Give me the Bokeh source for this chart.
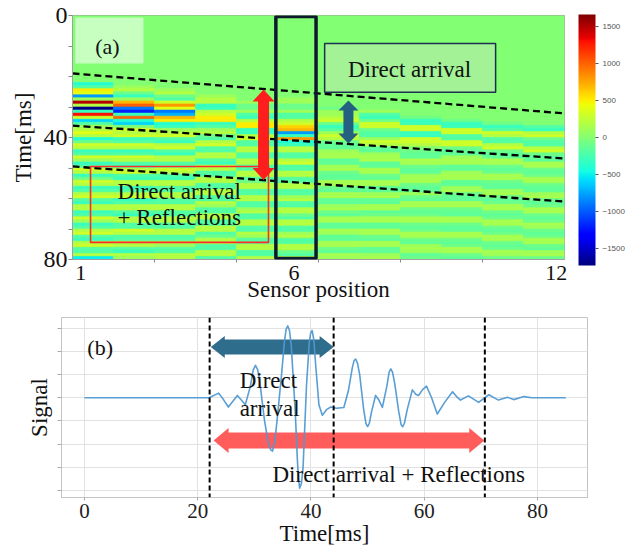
import numpy as np
from bokeh.plotting import figure
from bokeh.models import (Range1d, LinearColorMapper, ColorBar, FixedTicker, BoxAnnotation,
                          Label, Span, ColumnDataSource, CustomJSTickFormatter)
from bokeh.embed import file_html
from bokeh.resources import INLINE

# ---------------- data: panel (a) heat map (values in units of 100, 1 ms rows) -------------
n_rows_ms = 80
sensors = list(range(1, 13))
onset_ms = [22, 23, 24, 26, 28, 27, 30, 31, 33, 34, 35, 36]
s01 = [-4, -2, 5, 4, -8, 1, 15, 2, -17, -3, 13, 3, -6, -2, 1, 2, 4, 2, -4, -1, 3, 2, -3, -2, 3,
       1, -3, -2, 3, 2, -3, -1, 3, 2, -3, -2, 2, 3, -2, -3, 2, 2, -3, -2, 3, 1, -3, -2, 2, 3,
       -2, -3, 2, 3, -2, -2, 2, -5]
s02 = [1, 2, -1, -3, 1, 7, 10, -9, -12, -3, 10, -4, -6, 0, 3, 2, 3, -3, -2, 3, 2, -3, -2, 3, 2,
       -2, -3, 2, 3, -2, -3, 2, 2, -3, -2, 2, 3, -3, -2, 2, 2, -2, -3, 2, 2, -2, -2, 3, 2, -2,
       -2, 2, 2, -2, -3, 2, 1]
s03 = [1, 2, -1, -2, 3, 8, 4, -9, -7, 7, 5, -4, -3, 1, 2, 3, -2, -3, 2, 3, -2, -3, 2, 2, -2,
       -2, 3, 2, -2, -3, 2, 2, -2, -2, 2, 2, -2, -2, 2, 2, -2, -2, 2, 2, -2, -2, 2, 2, -2, -2,
       2, 1, -2, -2, 2, 2]
s04 = [1, 2, 2, -3, -3, 2, 3, 5, 5, -3, -2, 1, 2, -1, -2, 2, 3, -2, -2, 2, 2, -2, -3, 2, 2,
       -2, -2, 2, 2, -2, -2, 2, 2, -2, -2, 2, 1, -2, -2, 2, 2, -2, -2, 2, 2, -2, -1, 2, 2, -2,
       -2, 2, 2, -2]
s05 = [1, -1, -1, 1, -2, -3, 2, 5, 5, -3, -3, 2, 3, -2, -2, 2, 2, -2, -2, 2, 2, -2, -2, 2, 2,
       -2, -1, 2, 2, -2, -2, 2, 2, -2, -2, 1, 2, -2, -2, 2, 2, -2, -2, 2, 1, -2, -2, 2, 2, -2,
       -2, 2]
s06 = [1, 1, -1, -1, 1, -2, -2, 2, 3, 6, 7, -8, -3, 8, -4, -3, 2, 2, -2, -2, 2, 3, -2, -2, 2,
       2, -2, -2, 2, 2, -2, -2, 1, 2, -2, -2, 2, 2, -1, -2, 2, 2, -2, -2, 1, 2, -2, -2, 2, 2,
       -1, -2, 2]
s07 = [-1, 1, 1, 2, 3, -1, -3, -2, 1, 3, 2, -1, -1.5, -1.5, 1, 1.5, 1.5, -1.5, -1.5, 1, 1.5,
       -1, -1.5, -1.5, 1.5, 1.5, -1, -1.5, 1.5, 1.5, -1.5, -1.5, 1, 1.5, -1, -1.5, 1.5, 1.5,
       -1.5, -1.5, 1.5, 1, -1.5, -1.5, 1.5, 1.5, -1, -1.5, 1.5, 1]
s08 = [1, -2, -3, -1, 3, 3, -1, -2, -2, 1, 3, 2, -1.5, -1.5, 1, 1.5, 1.5, -1.5, -1.5, 1.5, 1.5,
       -1, -1.5, 1.5, 1.5, -1.5, -1.5, 1, 1.5, -1.5, -1.5, 1.5, 1.5, -1.5, -1, 1.5, 1.5, -1.5,
       -1.5, 1.5, 1.5, -1, -1.5, 1.5, 1.5, -1.5, -1.5, 1, 1.5]
s09 = [-1, -3, -3, 3, 3, -3, -3, 3, 3, 2, 0, -1, -1.5, -1.5, 1.5, 1.5, -1, -1.5, -1.5, 1, 1.5,
       1.5, -1, -1.5, -1.5, 1, -1, -1.5, 1.5, 1.5, -1, -1.5, -1, 1.5, 1.5, -1, -1.5, -1, 1.5,
       1.5, -1, -1.5, 1, 1.5, 1, -1.5, -1]
s10 = [-1, -3, -3, 3, 3, -2, -2, 3, 3, -1, -1.5, -1.5, 1, 1.5, 1.5, -1.5, -1.5, 1, 1.5, 1.5,
       -1.5, -1.5, 1, 1.5, -1, -1.5, -1.5, 1.5, 1.5, -1, -1.5, -1.5, 1.5, 1.5, -1, -1.5, -1.5,
       1.5, 1.5, -1, -1.5, -1, 1.5, 1.5, -1, -1.5]
s11 = [-1, -3, -2, 3, 2, -2, -2, 2, 3, -1, -1.5, -1.5, 1.5, 1.5, -1, -1.5, -1, 1.5, 1.5, -1,
       -1.5, -1.5, 1, 1.5, -1, -1.5, -1, 1.5, 1.5, -1, -1.5, -1, 1.5, 1.5, -1, -1.5, -1, 1.5,
       1.5, -1, -1.5, -1, 1.5, 1, -1]
s12 = [-2, -3, 2, 3, -1, -2, -2, 2, 3, -1, -1.5, -1.5, 1.5, 1.5, -1, -1.5, -1, 1.5, 1.5, -1,
       -1.5, -1.5, 1, 1.5, -1, -1.5, -1, 1.5, 1.5, -1, -1.5, -1, 1.5, 1, -1, -1.5, -1, 1.5,
       1.5, -1, -1.5, 1, 1.5, -1]
sensor_columns = [s01, s02, s03, s04, s05, s06, s07, s08, s09, s10, s11, s12]

# dashed arrival boundaries (a): time at left edge / right edge of the map
boundary_left_ms = [19.0, 36.1, 49.5]
boundary_right_ms = [32.1, 46.9, 61.0]

colorbar_ticks = [-1500, -1000, -500, 0, 500, 1000, 1500]

# ---------------- data: panel (b) waveform ----------------
sig_t = [0, 22, 23.7, 24.6, 25.4, 26.2, 27.0, 27.7, 28.4, 29.3, 29.8, 30.2, 30.6, 31.0, 31.8,
         32.5, 32.9, 33.2, 33.6, 34.0, 34.8, 35.3, 35.6, 35.9, 36.2, 36.5, 37.2, 37.6, 37.8,
         38.0, 38.3, 38.6, 39.2, 39.7, 39.95, 40.2, 40.5, 40.8, 41.4, 42.0, 42.8, 43.5, 44.5,
         45.8, 46.6, 47.3, 47.6, 47.9, 48.2, 48.6, 49.3, 49.7, 50.0, 50.3, 50.7, 51.4, 52.0,
         52.6, 53.4, 53.8, 54.1, 54.4, 54.8, 55.5, 55.9, 56.2, 56.5, 57.0, 57.9, 58.5, 59.0,
         59.7, 60.4, 61.3, 62.3, 63.6, 65.0, 65.7, 66.4, 67.8, 69.6, 71.4, 73.1, 74.7, 75.8,
         77.6, 79.0, 85.0]
sig_amp = [0, 0, 0.2, -0.1, -0.4, -0.15, 0.1, -0.1, -0.3, 0.5, 1.2, 1.4, 1.2, 0.6, -1.0,
           -2.0, -2.25, -2.3, -1.9, -1.0, 1.0, 2.4, 2.95, 3.1, 2.9, 2.3, -0.5, -2.7, -3.5,
           -3.9, -3.7, -3.0, 0.5, 2.4, 2.8, 2.9, 2.5, 1.5, -0.3, -0.75, -0.5, -0.4, -0.45,
           -0.42, 0.3, 1.3, 1.6, 1.67, 1.5, 1.0, -0.5, -1.1, -1.24, -1.1, -0.6, 0.1, -0.1,
           -0.42, 0.5, 1.1, 1.24, 1.1, 0.6, -0.6, -1.15, -1.25, -1.1, -0.5, 0.34, 0.15, 0.1,
           0.35, 0.5, 0.0, -0.7, -0.2, 0.26, 0.05, -0.1, 0.08, -0.2, 0.13, -0.1, 0.02, -0.08,
           0.05, 0, 0]
window_marks_ms = [22.1, 44.0, 70.7]

FONT = "Liberation Serif"

# ---------------- helpers ----------------
def jet_palette(n=256):
    v = np.linspace(0, 1, n)
    r = np.interp(v, [0, 0.35, 0.66, 0.89, 1], [0, 0, 1, 1, 0.5])
    g = np.interp(v, [0, 0.125, 0.375, 0.64, 0.91, 1], [0, 0, 1, 1, 0, 0])
    b = np.interp(v, [0, 0.11, 0.34, 0.65, 1], [0.5, 1, 1, 0, 0])
    return ["#%02x%02x%02x" % (int(round(255 * a)), int(round(255 * c)), int(round(255 * d)))
            for a, c, d in zip(r, g, b)]


def double_arrow(x0, y0, x1, y1, ppx, ppy, shaft, head_w, head_l):
    X0, Y0, X1, Y1 = x0 * ppx, y0 * ppy, x1 * ppx, y1 * ppy
    L = np.hypot(X1 - X0, Y1 - Y0)
    ux, uy = (X1 - X0) / L, (Y1 - Y0) / L
    nx, ny = -uy, ux
    pts = [(X0, Y0),
           (X0 + ux * head_l + nx * head_w / 2, Y0 + uy * head_l + ny * head_w / 2),
           (X0 + ux * head_l + nx * shaft / 2, Y0 + uy * head_l + ny * shaft / 2),
           (X1 - ux * head_l + nx * shaft / 2, Y1 - uy * head_l + ny * shaft / 2),
           (X1 - ux * head_l + nx * head_w / 2, Y1 - uy * head_l + ny * head_w / 2),
           (X1, Y1),
           (X1 - ux * head_l - nx * head_w / 2, Y1 - uy * head_l - ny * head_w / 2),
           (X1 - ux * head_l - nx * shaft / 2, Y1 - uy * head_l - ny * shaft / 2),
           (X0 + ux * head_l - nx * shaft / 2, Y0 + uy * head_l - ny * shaft / 2),
           (X0 + ux * head_l - nx * head_w / 2, Y0 + uy * head_l - ny * head_w / 2)]
    return [p[0] / ppx for p in pts], [p[1] / ppy for p in pts]


# ================= panel (a) =================
A_FW, A_FH = 492, 244
ax0, ax1 = 0.5, 12.5
ay0, ay1 = 80, 0
mapper = LinearColorMapper(palette=jet_palette(), low=-1730, high=1660)

pa = figure(frame_width=A_FW, frame_height=A_FH,
            x_range=Range1d(ax0, ax1), y_range=Range1d(ay0, ay1),
            output_backend="svg", toolbar_location=None,
            min_border_left=72, min_border_top=15, min_border_bottom=40, min_border_right=66,
            background_fill_color=mapper.palette[int(0.51 * 255)])

xs, ys, vs = [], [], []
for s, t0, vals in zip(sensors, onset_ms, sensor_columns):
    full = [0] * t0 + vals
    full = (full + [0] * n_rows_ms)[:n_rows_ms]
    for t, v in enumerate(full):
        xs.append(s)
        ys.append(t + 0.5)
        vs.append(v * 100)
src = ColumnDataSource(dict(x=xs, y=ys, v=vs))
pa.rect(x="x", y="y", width=1, height=1, source=src,
        fill_color={"field": "v", "transform": mapper},
        line_color={"field": "v", "transform": mapper}, line_width=0.6)

pa.multi_line(xs=[[ax0, ax1]] * 3,
              ys=[[l, r] for l, r in zip(boundary_left_ms, boundary_right_ms)],
              line_color="black", line_width=2.3, line_dash="7 4")

pa.add_layout(BoxAnnotation(left=0.57, right=2.23, top=0.66, bottom=15.7,
                            fill_color="white", fill_alpha=0.55, line_color=None))
pa.add_layout(BoxAnnotation(left=5.46, right=6.44, top=0.3, bottom=79.7, fill_alpha=0,
                            line_color="#0E1A2B", line_alpha=1.0, line_width=3.5))
pa.add_layout(BoxAnnotation(left=6.65, right=10.82, top=9.2, bottom=25.2,
                            fill_color="#A3F296", fill_alpha=1.0,
                            line_color="#1E3050", line_alpha=1.0, line_width=1.5))
pa.add_layout(BoxAnnotation(left=0.94, right=5.28, top=49.5, bottom=74.4, fill_alpha=0,
                            line_color="#FF2A2A", line_alpha=1.0, line_width=1.6))

ppx_a = A_FW / (ax1 - ax0)
ppy_a = A_FH / abs(ay0 - ay1)
rx, ry = double_arrow(5.16, 24.3, 5.16, 53.9, ppx_a, ppy_a, 11, 22, 12)
pa.patch(rx, ry, fill_color="#FF1E1E", line_color=None, level="overlay")
bx, by = double_arrow(7.23, 27.9, 7.23, 42.0, ppx_a, ppy_a, 10, 20, 10)
pa.patch(bx, by, fill_color="#24607F", line_color=None, level="overlay")

for txt, x, y, al in [("(a)", 1.35, 10.2, "center"),
                      ("Direct arrival", 8.72, 17.6, "center"),
                      ("Direct arrival", 1.6, 57.7, "left"),
                      ("+ Reflections", 1.6, 66.2, "left")]:
    pa.add_layout(Label(x=x, y=y, text=txt, text_font=FONT,
                        text_font_size="23px" if txt != "(a)" else "22px",
                        text_align=al, text_baseline="middle", text_color="#111111"))

pa.grid.visible = False
pa.outline_line_color = "#A0A0A0"
pa.yaxis.ticker = FixedTicker(ticks=[0, 40, 80], minor_ticks=[10, 20, 30, 50, 60, 70])
pa.yaxis.major_label_text_font = FONT
pa.yaxis.major_label_text_font_size = "24px"
pa.yaxis.major_label_text_color = "#111111"
pa.yaxis.major_tick_out = 4
pa.yaxis.major_tick_in = 0
pa.yaxis.minor_tick_out = 4
pa.yaxis.minor_tick_in = 0
pa.yaxis.major_label_standoff = 1
pa.yaxis.axis_label = "Time[ms]"
pa.yaxis.axis_label_standoff = 5
pa.xaxis.ticker = FixedTicker(ticks=[0.7, 5.9, 12.3], minor_ticks=[2.5, 4.5, 6.5, 8.5, 10.5])
pa.xaxis.major_label_overrides = {0.7: "1", 5.9: "6", 12.3: "12"}
pa.xaxis.major_label_text_font = FONT
pa.xaxis.major_label_text_font_size = "22px"
pa.xaxis.major_label_text_color = "#111111"
pa.xaxis.major_tick_out = 0
pa.xaxis.major_tick_in = 0
pa.xaxis.minor_tick_out = 3
pa.xaxis.minor_tick_in = 0
pa.xaxis.major_label_standoff = 3
pa.xaxis.axis_label = "Sensor position"
pa.xaxis.axis_label_standoff = -6
for ax in (pa.xaxis[0], pa.yaxis[0]):
    ax.axis_label_text_font = FONT
    ax.axis_label_text_font_size = "23px"
    ax.axis_label_text_font_style = "normal"
    ax.axis_label_text_color = "#111111"
    ax.axis_line_color = "#A0A0A0"
    ax.major_tick_line_color = "#888888"
    ax.minor_tick_line_color = "#888888"

cb = ColorBar(color_mapper=mapper, ticker=FixedTicker(ticks=colorbar_ticks),
              major_label_overrides={t: str(t).replace("-", "\u2212") for t in colorbar_ticks},
              width=17, height=251, padding=0, margin=0, label_standoff=4,
              location=(506, -6),
              major_label_text_font_size="8px", major_label_text_color="#555555",
              major_tick_line_color="#555555", major_tick_in=0, major_tick_out=3,
              bar_line_color=None, border_line_color=None, background_fill_color=None)
pa.add_layout(cb)

# ================= panel (b) =================
B_FW, B_FH = 526, 180
bx0, bx1 = -4.06, 88.83
by0, by1 = -4.30, 3.46
pb = figure(frame_width=B_FW, frame_height=B_FH,
            x_range=Range1d(bx0, bx1), y_range=Range1d(by0, by1),
            output_backend="svg", toolbar_location=None,
            min_border_left=61, min_border_top=13, min_border_bottom=30, min_border_right=30)
pb.grid.grid_line_color = "#E2E2E2"
pb.outline_line_color = "#C4C4C4"

ppx_b = B_FW / (bx1 - bx0)
ppy_b = B_FH / (by1 - by0)
ax_, ay_ = double_arrow(22.3, 2.19, 44.0, 2.19, ppx_b, ppy_b, 15, 22, 14)
pb.patch(ax_, ay_, fill_color="#2F6D8D", line_color=None)
rx_, ry_ = double_arrow(22.8, -1.84, 70.6, -1.84, ppx_b, ppy_b, 16, 25, 15)
pb.patch(rx_, ry_, fill_color="#FF5C5C", line_color=None)

pb.line(sig_t, sig_amp, line_color="#5099D2", line_width=1.6, line_alpha=0.95,
        line_join="round")

for t in window_marks_ms:
    pb.add_layout(Span(location=t, dimension="height", line_color="black",
                       line_width=2, line_dash="5 3"))

for txt, x, y, size in [("(b)", 0.5, 2.17, "22px"),
                        ("Direct", 27.4, 0.73, "23px"),
                        ("arrival", 27.4, -0.47, "23px"),
                        ("Direct arrival + Reflections", 33.2, -3.31, "23px")]:
    pb.add_layout(Label(x=x, y=y, text=txt, text_font=FONT, text_font_size=size,
                        text_align="left", text_baseline="middle", text_color="#111111"))

pb.xaxis.ticker = FixedTicker(ticks=[0, 20, 40, 60, 80])
pb.xaxis.major_label_text_font = FONT
pb.xaxis.major_label_text_font_size = "21px"
pb.xaxis.major_label_text_color = "#222222"
pb.xaxis.major_tick_out = 3
pb.xaxis.major_tick_in = 0
pb.xaxis.major_label_standoff = 3
pb.xaxis.axis_label = "Time[ms]"
pb.xaxis.axis_label_standoff = 0
pb.yaxis.ticker = FixedTicker(ticks=[-4, -3, -2, -1, 0, 1, 2, 3])
pb.yaxis.formatter = CustomJSTickFormatter(code="return ''")
pb.yaxis.major_label_standoff = 0
pb.yaxis.major_tick_out = 4
pb.yaxis.major_tick_in = 0
pb.yaxis.axis_label = "Signal"
pb.yaxis.axis_label_standoff = 6
for ax in (pb.xaxis[0], pb.yaxis[0]):
    ax.minor_tick_line_color = None
    ax.axis_label_text_font = FONT
    ax.axis_label_text_font_size = "23px"
    ax.axis_label_text_font_style = "normal"
    ax.axis_label_text_color = "#111111"
    ax.axis_line_color = "#C4C4C4"
    ax.major_tick_line_color = "#AAAAAA"

# two independent roots, stacked, so their frames are not aligned to each other
open("out.html", "w").write(file_html([pa, pb], INLINE))
